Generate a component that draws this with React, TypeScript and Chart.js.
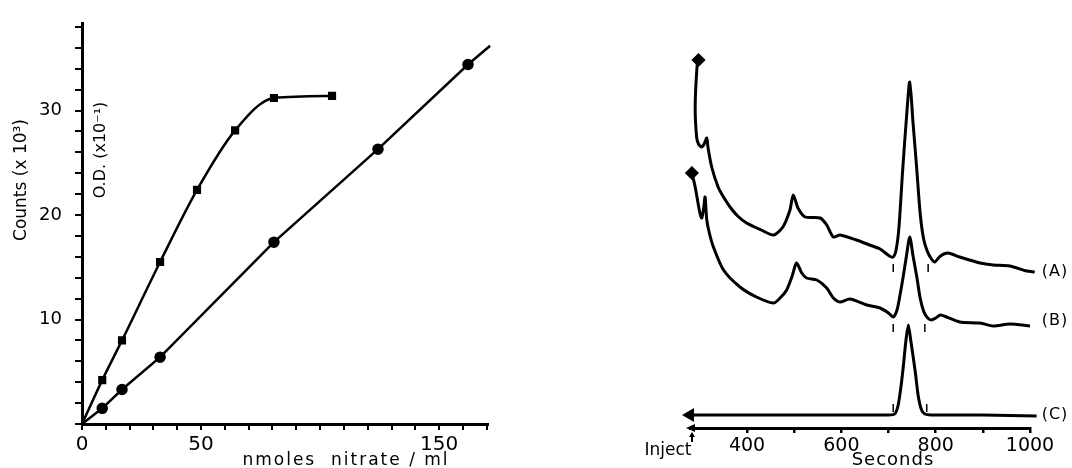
import React, { useEffect, useRef } from "react";
import { Chart, registerables } from "chart.js";

Chart.register(...registerables);

// ---------- Left panel data ----------
const countsX = [0, 8.5, 16.8, 32.8, 48.3, 64.3, 80.6, 105];
const countsY = [0, 4.2, 8.0, 15.5, 22.4, 28.1, 31.2, 31.4];
const odX = [0, 8.5, 16.8, 32.8, 80.6, 124.3, 162.1, 171.4];
const odY = [0, 1.5, 3.3, 6.4, 17.4, 26.3, 34.4, 36.2];
const nitrateLabeled = [0, 50, 150];
const countsLabeled = [10, 20, 30];

// ---------- Right panel data (seconds vs detector response) ----------
const secA = [297, 294, 290, 293, 297, 304, 309, 314.6, 317, 325, 338.6, 350, 364, 380, 399, 430, 456, 476, 491, 498, 508, 523, 555, 569, 583, 597, 632, 660, 682, 702, 710, 716, 722, 730, 738, 745, 752, 760, 767, 774, 782, 791, 798, 810, 826, 851, 894, 922, 957, 993, 1010];
const valA = [368, 362, 321, 291, 284, 281, 284, 290, 281, 261, 241, 231, 221, 212, 205, 198, 193, 201, 218, 233, 220, 211, 210, 203, 191, 193, 188, 183, 179, 172, 171, 178, 200, 258, 310, 346, 305, 258, 215, 190, 177, 169, 166, 172, 175, 171, 165, 163, 162, 157, 156];
const secB = [283, 290, 300, 304, 308, 311, 314.6, 320, 328.6, 350, 385, 420, 456, 470, 484, 495, 505, 516, 526, 548, 569, 583, 597, 618, 654, 682, 700, 710, 718, 724, 731, 738, 745, 752, 760, 767, 775, 783, 791, 800, 810, 823, 851, 894, 922, 957, 1000];
const valB = [255, 241, 215, 210, 220, 231, 208, 195, 181, 158, 141, 131, 125, 130, 138, 151, 165, 155, 150, 148, 140, 130, 126, 129, 123, 120, 115, 111, 118, 132, 151, 172, 191, 172, 151, 130, 116, 110, 108, 110, 113, 111, 106, 105, 102, 104, 102];
const secC = [279, 500, 700, 713, 720, 726, 731, 737, 742, 747, 752, 757, 763, 770, 777, 790, 900, 1014];
const valC = [13, 13, 13, 14, 22, 40, 60, 88, 103, 88, 72, 55, 32, 18, 14, 13, 13, 12];
const marksSec = [710, 784, 710, 777, 710, 781];
const marksVal = [160, 160, 100, 100, 20, 20];
const secondsTicks = [400, 500, 600, 700, 800, 900, 1000];
const secondsLabeled = [400, 600, 800, 1000];

const FONT = "DejaVu Sans";
Chart.defaults.font.family = FONT;
Chart.defaults.color = "#000";

type TextItem = { text: string; x: number; y: number; size: number; rot?: number; spacing?: number };

const leftTexts: TextItem[] = [
  { text: "Counts (x 10³)", x: 22, y: 180, size: 17, rot: -90 },
  { text: "O.D. (x10⁻¹)", x: 101, y: 150, size: 16, rot: -90 },
  { text: "nmoles  nitrate / ml", x: 346, y: 461, size: 17, spacing: 2 },
];
const rightTexts: TextItem[] = [
  { text: "(A)", x: 455, y: 272, size: 16, spacing: 1 },
  { text: "(B)", x: 455, y: 321, size: 16, spacing: 1 },
  { text: "(C)", x: 455, y: 415, size: 16, spacing: 1 },
  { text: "Inject", x: 68, y: 451, size: 17 },
  { text: "Seconds", x: 293, y: 460, size: 18, spacing: 1 },
];

function textPlugin(id: string, items: TextItem[], extra?: (chart: any) => void) {
  return {
    id,
    afterDraw(chart: any) {
      const ctx = chart.ctx as CanvasRenderingContext2D;
      ctx.save();
      ctx.fillStyle = "#000";
      ctx.textAlign = "center";
      ctx.textBaseline = "middle";
      for (const t of items) {
        ctx.save();
        ctx.translate(t.x, t.y);
        if (t.rot) ctx.rotate((t.rot * Math.PI) / 180);
        ctx.font = `${t.size}px "${FONT}"`;
        (ctx as any).letterSpacing = `${t.spacing || 0}px`;
        ctx.fillText(t.text, 0, 0);
        ctx.restore();
      }
      ctx.restore();
      if (extra) extra(chart);
    },
  };
}

function LeftChart() {
  const ref = useRef<HTMLCanvasElement>(null);
  useEffect(() => {
    const countsData = countsX.map((x, i) => ({ x, y: countsY[i] }));
    const odData = odX.map((x, i) => ({ x, y: odY[i] }));
    const chart = new Chart(ref.current!, {
      type: "line",
      data: {
        datasets: [
          {
            data: countsData,
            borderColor: "#000",
            backgroundColor: "#000",
            borderWidth: 2.5,
            cubicInterpolationMode: "monotone",
            pointStyle: "rect",
            pointRadius: (c: any) => (c.dataIndex === 0 ? 0 : 4),
          },
          {
            data: odData,
            borderColor: "#000",
            backgroundColor: "#000",
            borderWidth: 2.5,
            tension: 0,
            pointStyle: "circle",
            pointRadius: (c: any) => (c.dataIndex === 0 || c.dataIndex === odData.length - 1 ? 0 : 4.5),
            clip: false,
          },
        ],
      },
      options: {
        animation: false,
        responsive: false,
        devicePixelRatio: 1,
        layout: { padding: { top: 14, right: 12, left: 0, bottom: 0 } },
        plugins: { legend: { display: false }, tooltip: { enabled: false } },
        scales: {
          x: {
            type: "linear",
            min: 0,
            max: 170.5,
            afterFit: (s: any) => { s.height = 44; },
            border: { display: true, color: "#000", width: 3 },
            grid: { drawOnChartArea: false, drawTicks: true, tickLength: 6, color: "#000", lineWidth: 2 },
            ticks: {
              stepSize: 10,
              includeBounds: false,
              autoSkip: false,
              maxRotation: 0,
              padding: 3,
              font: { size: 20, family: FONT },
              callback: (v: any) => (nitrateLabeled.includes(Number(v)) ? String(v) : ""),
            },
          },
          y: {
            type: "linear",
            min: 0,
            max: 38.3,
            afterFit: (s: any) => { s.width = 82; },
            border: { display: true, color: "#000", width: 3 },
            grid: { drawOnChartArea: false, drawTicks: true, tickLength: 7, color: "#000", lineWidth: 2 },
            ticks: {
              stepSize: 2,
              includeBounds: false,
              autoSkip: false,
              padding: 13,
              font: { size: 18, family: FONT },
              callback: (v: any) => (countsLabeled.includes(Number(v)) ? String(v) : ""),
            },
          },
        },
      },
      plugins: [textPlugin("leftTexts", leftTexts)],
    } as any);
    return () => chart.destroy();
  }, []);
  return <canvas ref={ref} width={500} height={468} style={{ position: "absolute", left: 0, top: 0, width: 500, height: 468 }} />;
}

function RightChart() {
  const ref = useRef<HTMLCanvasElement>(null);
  useEffect(() => {
    const mk = (xs: number[], ys: number[]) => xs.map((x, i) => ({ x, y: ys[i] }));
    const trace = (data: any[], startStyle: string, startRot: number) => ({
      data,
      borderColor: "#000",
      backgroundColor: "#000",
      borderWidth: 3,
      tension: 0.25,
      clip: false,
      pointStyle: startStyle,
      pointRotation: startRot,
      pointRadius: (c: any) => (c.dataIndex === 0 ? 5 : 0),
    });
    const axisExtras = (chart: any) => {
      const ctx = chart.ctx as CanvasRenderingContext2D;
      const a = chart.chartArea;
      ctx.save();
      ctx.fillStyle = "#000";
      ctx.strokeStyle = "#000";
      // left arrowhead of the time axis
      ctx.beginPath();
      ctx.moveTo(a.left - 4, a.bottom);
      ctx.lineTo(a.left + 5, a.bottom - 4);
      ctx.lineTo(a.left + 5, a.bottom + 4);
      ctx.closePath();
      ctx.fill();
      // inject arrow
      ctx.lineWidth = 2;
      ctx.beginPath();
      ctx.moveTo(a.left + 2, a.bottom + 14);
      ctx.lineTo(a.left + 2, a.bottom + 6);
      ctx.stroke();
      ctx.beginPath();
      ctx.moveTo(a.left + 2, a.bottom + 4);
      ctx.lineTo(a.left - 1, a.bottom + 9);
      ctx.lineTo(a.left + 5, a.bottom + 9);
      ctx.closePath();
      ctx.fill();
      ctx.restore();
    };
    const chart = new Chart(ref.current!, {
      type: "line",
      data: {
        datasets: [
          trace(mk(secA, valA), "rectRot", 0),
          trace(mk(secB, valB), "rectRot", 0),
          trace(mk(secC, valC), "triangle", -90),
          {
            data: mk(marksSec, marksVal),
            showLine: false,
            borderColor: "#000",
            backgroundColor: "#000",
            pointStyle: "line",
            pointRotation: 90,
            pointRadius: 4,
            pointBorderWidth: 1.5,
            clip: false,
          },
        ],
      },
      options: {
        animation: false,
        responsive: false,
        devicePixelRatio: 1,
        layout: { padding: { top: 28, right: 42, left: 90, bottom: 0 } },
        plugins: { legend: { display: false }, tooltip: { enabled: false } },
        scales: {
          x: {
            type: "linear",
            min: 279,
            max: 1000,
            afterFit: (s: any) => { s.height = 40; },
            afterBuildTicks: (s: any) => { s.ticks = secondsTicks.map((v) => ({ value: v })); },
            border: { display: true, color: "#000", width: 3 },
            grid: { drawOnChartArea: false, drawTicks: true, tickLength: 5, color: "#000", lineWidth: 2.5 },
            ticks: {
              autoSkip: false,
              maxRotation: 0,
              padding: 2,
              font: { size: 19, family: FONT },
              callback: (v: any) => (secondsLabeled.includes(Number(v)) ? String(v) : ""),
            },
          },
          y: { type: "linear", min: 0, max: 400, display: false },
        },
      },
      plugins: [textPlugin("rightTexts", rightTexts, axisExtras)],
    } as any);
    return () => chart.destroy();
  }, []);
  return <canvas ref={ref} width={472} height={468} style={{ position: "absolute", left: 600, top: 0, width: 472, height: 468 }} />;
}

export default function App() {
  return (
    <div style={{ position: "absolute", left: 0, top: 0, width: 1072, height: 468, background: "#fff", overflow: "hidden" }}>
      <LeftChart />
      <RightChart />
    </div>
  );
}
